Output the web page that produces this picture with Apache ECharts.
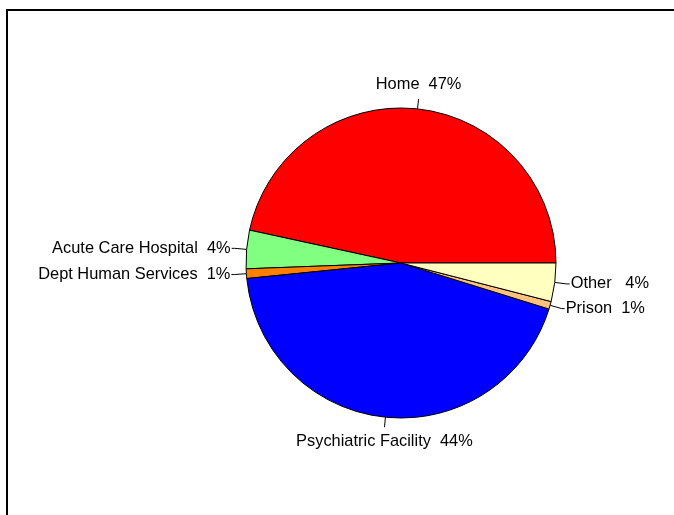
<!DOCTYPE html>
<html>
<head>
<meta charset="utf-8">
<script src="https://cdn.jsdelivr.net/npm/echarts@6/dist/echarts.min.js"></script>
<style>
  html, body { margin: 0; padding: 0; background: #fff; }
  #myChart { width: 674px; height: 515px; }
</style>
</head>
<body>
<div id="myChart"></div>
<script>
// slices, counter-clockwise from 3 o'clock
var categories = ['Home', 'Acute Care Hospital', 'Dept Human Services', 'Psychiatric Facility', 'Prison', 'Other'];
var shares = [46.6, 4.0, 1.0, 43.6, 0.8, 4.0];
var labelTexts = ['Home  47%', 'Acute Care Hospital  4%', 'Dept Human Services  1%', 'Psychiatric Facility  44%', 'Prison  1%', 'Other   4%'];
var sliceColors = ['#ff0000', '#80ff80', '#ff8000', '#0000ff', '#ffc080', '#ffffc0'];

var labelFont = '16.4px "Liberation Sans", Arial, sans-serif';

// width of a label, used to centre the top / bottom labels on their tick
function textWidth(s) {
  var ctx = document.createElement('canvas').getContext('2d');
  ctx.font = labelFont;
  return ctx.measureText(s).width;
}

var myChart = echarts.init(document.getElementById('myChart'));

var pieData = categories.map(function (name, i) {
  var item = {
    name: name,
    value: shares[i],
    itemStyle: { color: sliceColors[i] }
  };
  if (i === 0) {
    item.label = { offset: [-textWidth(labelTexts[i]) / 2 - 1, -14] };
    item.labelLine = { length: 10, length2: 0 };
  }
  if (i === 3) {
    item.label = { offset: [textWidth(labelTexts[i]) / 2 + 1, 14] };
    item.labelLine = { length: 10, length2: 0 };
  }
  return item;
});

myChart.setOption({
  animation: false,
  graphic: [{
    type: 'rect',
    shape: { x: 7, y: 10, width: 720, height: 560 },
    style: { fill: null, stroke: '#000', lineWidth: 2 },
    silent: true
  }],
  series: [{
    type: 'pie',
    center: [401, 263],
    radius: 155,
    startAngle: 0,
    clockwise: false,
    avoidLabelOverlap: false,
    itemStyle: { borderColor: '#000', borderWidth: 1 },
    label: {
      show: true,
      position: 'outside',
      color: '#000',
      fontFamily: '"Liberation Sans", Arial, sans-serif',
      fontSize: 16.4,
      distanceToLabelLine: 1,
      formatter: function (p) { return labelTexts[p.dataIndex]; }
    },
    labelLine: {
      show: true,
      length: 12,
      length2: 3,
      lineStyle: { color: '#000', width: 1 }
    },
    emphasis: { disabled: true },
    data: pieData
  }]
});
</script>
</body>
</html>
